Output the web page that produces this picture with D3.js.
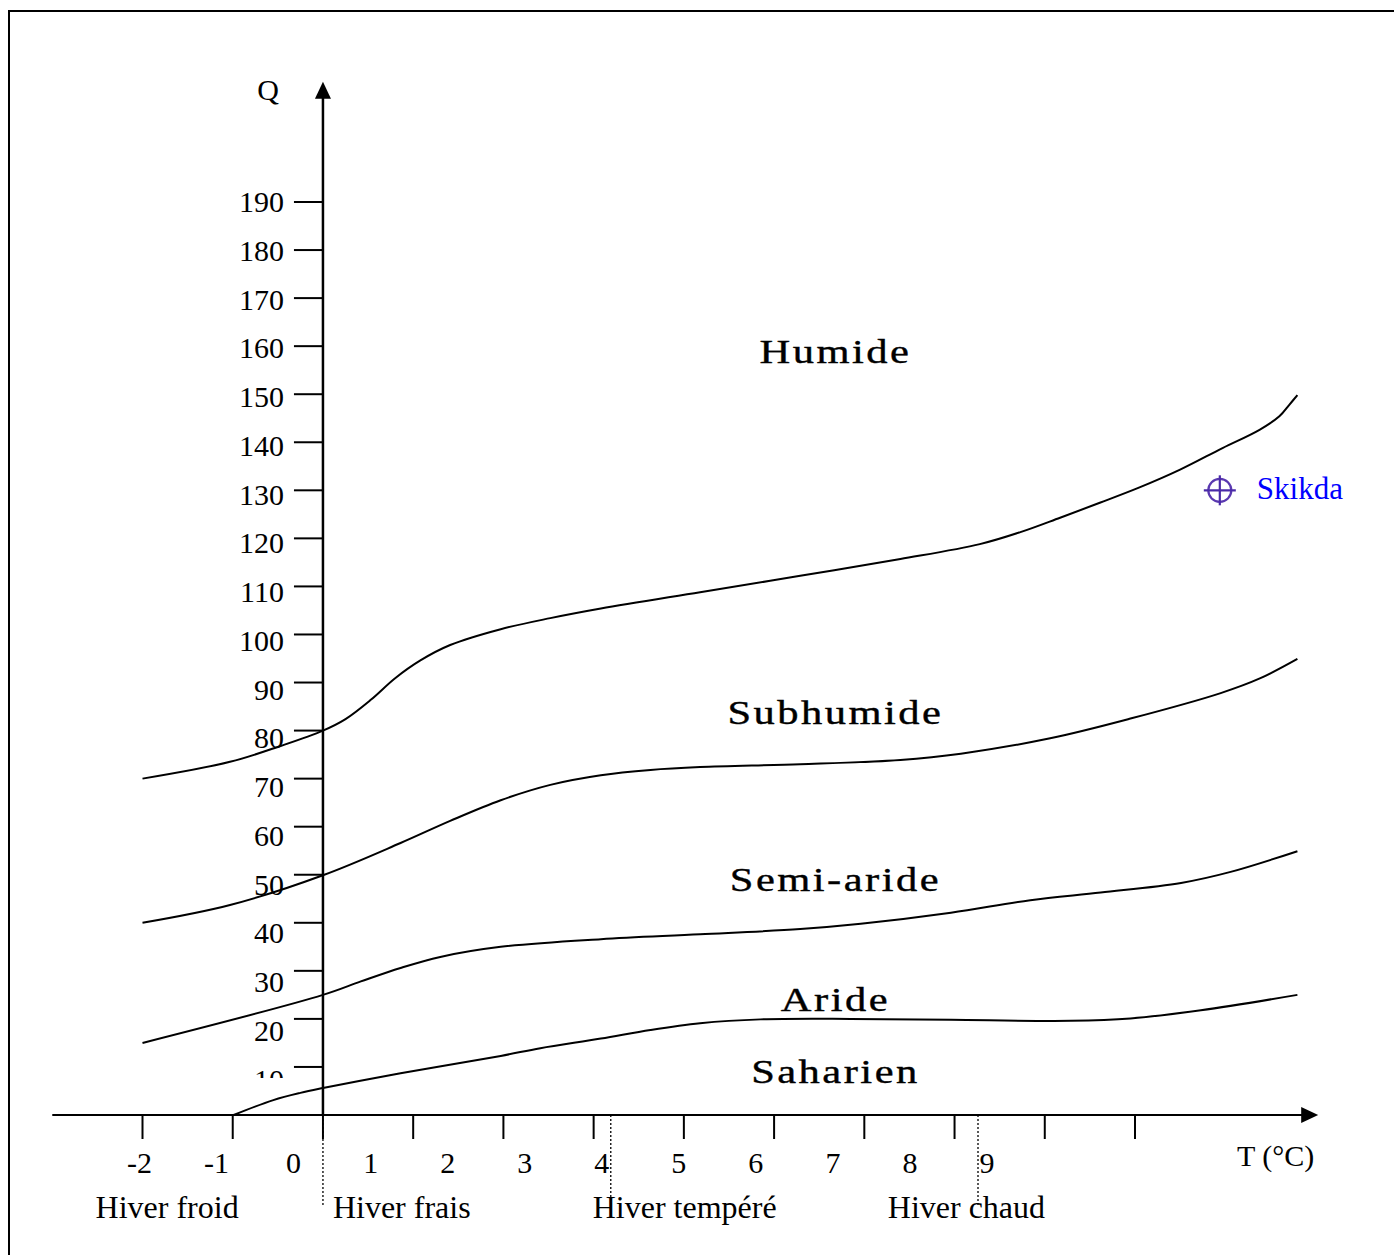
<!DOCTYPE html>
<html>
<head>
<meta charset="utf-8">
<script src="https://cdn.jsdelivr.net/npm/d3@7/dist/d3.min.js"></script>
<style>
  html, body { margin: 0; padding: 0; background: #fff; }
  svg { display: block; }
</style>
</head>
<body>
<script>
// Climagramme d'Emberger : Q en fonction de m (T °C, moyenne des minima du mois le plus froid)

// Graduations
const tempTicks  = [-2, -1, 0, 1, 2, 3, 4, 5, 6, 7, 8, 9];
const tempLabels = [-2, -1, 0, 1, 2, 3, 4, 5, 6, 7, 8, 9];
const qTicks  = [10, 20, 30, 40, 50, 60, 70, 80, 90, 100, 110, 120, 130, 140, 150, 160, 170, 180, 190];
const qLabels = [10, 20, 30, 40, 50, 60, 70, 80, 90, 100, 110, 120, 130, 140, 150, 160, 170, 180, 190];

// Limites des étages bioclimatiques [m, Q]
const limitHumide = [[-2, 70], [-1.03, 73.5], [-0.47, 76.8], [0, 80], [0.25, 82.4], [0.53, 86.4],
  [0.8, 90.9], [1.08, 94.6], [1.41, 97.8], [1.97, 101.1], [2.52, 103.4], [3.08, 105.4],
  [4.18, 108.8], [5.29, 112.2], [6.4, 115.7], [7.28, 118.8], [7.73, 121.3], [8.17, 124.3],
  [8.61, 127.4], [9.05, 130.6], [9.5, 134.3], [9.97, 138.8], [10.38, 142.6], [10.6, 145.4],
  [10.71, 147.8], [10.8, 149.8]];
const limitSubhumide = [[-2, 40], [-1.03, 43.7], [0, 49.9], [0.86, 56.6], [1.41, 61.2],
  [1.97, 65.5], [2.52, 68.7], [3.08, 70.7], [3.63, 71.8], [4.18, 72.4], [5.29, 73.0],
  [6.4, 73.9], [7.07, 75.2], [8.06, 78.4], [8.95, 82.5], [9.95, 87.8], [10.39, 90.9], [10.8, 94.9]];
const limitSemiAride = [[-2, 15], [0, 25], [0.42, 27.8], [0.86, 30.6], [1.3, 32.9], [1.97, 35.0],
  [3.08, 36.6], [4.18, 37.6], [5.29, 38.7], [5.96, 39.8], [6.96, 42.1], [7.84, 44.7],
  [8.62, 46.3], [9.51, 48.3], [10.06, 50.6], [10.8, 54.9]];
const limitAride = [[-0.99, 0], [-0.55, 3.1], [-0.25, 4.6], [0, 5.6], [0.86, 8.7], [1.97, 12.3],
  [2.41, 13.9], [3.08, 15.9], [3.63, 17.7], [4.18, 19.1], [4.85, 19.9], [5.85, 20.0],
  [6.96, 19.8], [8.29, 19.6], [8.95, 20.1], [9.73, 21.8], [10.8, 25.0]];

// Étages
const zoneNames = ["Humide", "Subhumide", "Semi-aride", "Aride", "Saharien"];
const zoneQ     = [156.5, 81.4, 46.6, 21.6, 6.7];
const zoneM     = 5.68;

// Variantes thermiques (hiver)
const winterNames = ["Hiver froid", "Hiver frais", "Hiver tempéré", "Hiver chaud"];
const winterStart = [-2.52, 0.11, 2.99, 6.26];
const winterBounds = [0, 3.19, 7.26];

// Station
const stationName = "Skikda";
const stationM = 9.94;
const stationQ = 130;

const W = 1394, H = 1255;
const serif = "'Liberation Serif', 'Times New Roman', serif";

const x = d3.scaleLinear().domain([-2, 9]).range([142.5, 1135]);
const y = d3.scaleLinear().domain([0, 190]).range([1115, 202]);
// position des libellés (décalés par rapport aux graduations)
const xLab = d3.scaleLinear().domain([-2, 9]).range([139.5, 987]);
const yLab = d3.scaleLinear().domain([20, 190]).range([1031, 202]);

const svg = d3.select("body").append("svg")
  .attr("width", W).attr("height", H)
  .attr("viewBox", `0 0 ${W} ${H}`);

const defs = svg.append("defs");
defs.append("clipPath").attr("id", "ylab-clip")
  .append("rect").attr("x", 0).attr("y", 0).attr("width", 320).attr("height", 1078);
defs.append("filter").attr("id", "soft")
  .append("feGaussianBlur").attr("stdDeviation", 0.7);

// cadre
svg.append("rect")
  .attr("x", 9).attr("y", 11).attr("width", W + 20).attr("height", H + 20)
  .attr("fill", "none").attr("stroke", "#000").attr("stroke-width", 2);

const x0 = x(0), yBase = y(0);

// axe des abscisses
svg.append("line")
  .attr("x1", x(-3)).attr("x2", x(11.03) - 14)
  .attr("y1", yBase).attr("y2", yBase)
  .attr("stroke", "#000").attr("stroke-width", 2);
svg.append("path")
  .attr("d", `M${x(11.03)},${yBase} L${x(11.03) - 17},${yBase - 8} L${x(11.03) - 17},${yBase + 8} Z`)
  .attr("fill", "#000");

svg.append("g").selectAll("line").data(tempTicks).join("line")
  .attr("x1", d => x(d)).attr("x2", d => x(d))
  .attr("y1", yBase).attr("y2", yBase + 24)
  .attr("stroke", "#000").attr("stroke-width", 2);

svg.append("g").selectAll("text").data(tempLabels).join("text")
  .attr("x", d => xLab(d)).attr("y", 1173)
  .attr("text-anchor", "middle")
  .attr("font-family", serif).attr("font-size", 30)
  .text(d => d);

svg.append("text")
  .attr("x", 1237).attr("y", 1166)
  .attr("font-family", serif).attr("font-size", 30)
  .text("T (°C)");

// limites des variantes d'hiver
svg.append("g").selectAll("line").data(winterBounds).join("line")
  .attr("x1", d => x(d)).attr("x2", d => x(d))
  .attr("y1", yBase).attr("y2", 1206)
  .attr("stroke", "#000").attr("stroke-width", 1.3)
  .attr("stroke-dasharray", "2,2");

svg.append("g").selectAll("text").data(winterNames).join("text")
  .attr("x", (d, i) => x(winterStart[i])).attr("y", 1218)
  .attr("font-family", serif).attr("font-size", 32)
  .text(d => d);

// axe des ordonnées
const yTop = y(215);
svg.append("line")
  .attr("x1", x0).attr("x2", x0)
  .attr("y1", yBase).attr("y2", yTop + 15)
  .attr("stroke", "#000").attr("stroke-width", 2.5);
svg.append("path")
  .attr("d", `M${x0},${yTop} L${x0 - 8},${yTop + 17} L${x0 + 8},${yTop + 17} Z`)
  .attr("fill", "#000");

svg.append("g").selectAll("line").data(qTicks).join("line")
  .attr("x1", x0 - 29).attr("x2", x0)
  .attr("y1", d => y(d)).attr("y2", d => y(d))
  .attr("stroke", "#000").attr("stroke-width", 2);

svg.append("g").attr("clip-path", "url(#ylab-clip)")
  .selectAll("text").data(qLabels).join("text")
  .attr("x", 284).attr("y", d => yLab(d) + 10)
  .attr("text-anchor", "end")
  .attr("font-family", serif).attr("font-size", 30)
  .text(d => d);

svg.append("text")
  .attr("x", 268).attr("y", 100)
  .attr("text-anchor", "middle")
  .attr("font-family", serif).attr("font-size", 30)
  .text("Q");

// courbes limites
const line = d3.line()
  .x(d => x(d[0])).y(d => y(d[1]))
  .curve(d3.curveCatmullRom.alpha(0.5));

svg.append("g").selectAll("path")
  .data([limitHumide, limitSubhumide, limitSemiAride, limitAride]).join("path")
  .attr("d", line)
  .attr("fill", "none").attr("stroke", "#000").attr("stroke-width", 2);

// noms des étages
svg.append("g").selectAll("text").data(zoneNames).join("text")
  .attr("transform", (d, i) => `translate(${x(zoneM)},${y(zoneQ[i])}) scale(1.25,1)`)
  .attr("text-anchor", "middle")
  .attr("letter-spacing", 2)
  .attr("font-family", serif).attr("font-size", 34)
  .attr("stroke", "#000").attr("stroke-width", 0.4)
  .text(d => d);

// station
const sx = x(stationM), sy = y(stationQ);
const mark = svg.append("g").attr("filter", "url(#soft)");
mark.append("circle").attr("cx", sx).attr("cy", sy).attr("r", 11.5)
  .attr("fill", "none").attr("stroke", "#5a38b0").attr("stroke-width", 2.2);
mark.append("line").attr("x1", sx - 16).attr("x2", sx + 16).attr("y1", sy).attr("y2", sy)
  .attr("stroke", "#4a2aa8").attr("stroke-width", 2.2);
mark.append("line").attr("x1", sx).attr("x2", sx).attr("y1", sy - 15).attr("y2", sy + 15)
  .attr("stroke", "#4a2aa8").attr("stroke-width", 2.2);

svg.append("text")
  .attr("x", sx + 37).attr("y", sy + 9)
  .attr("font-family", serif).attr("font-size", 31)
  .attr("fill", "#0000ff")
  .text(stationName);
</script>
</body>
</html>
